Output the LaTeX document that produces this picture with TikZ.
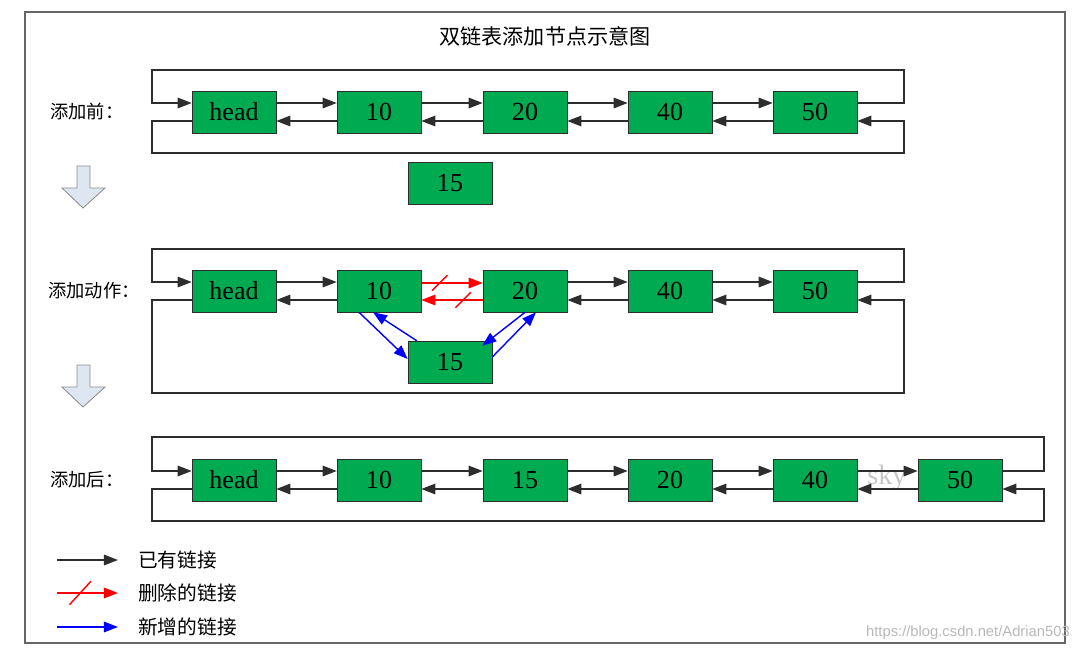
\documentclass[tikz,border=0pt]{standalone}
\usepackage{fontspec}
\setmainfont{Liberation Serif}
\newfontfamily\cjk{Noto Sans CJK SC}
\newfontfamily\urlsans{Liberation Sans}
\usetikzlibrary{arrows.meta,calc,shapes.misc}

\definecolor{nodegreen}{RGB}{0,170,80}
\definecolor{linkgray}{RGB}{45,45,45}
\definecolor{downfill}{RGB}{221,230,241}

\tikzset{
  box/.style={draw=linkgray,fill=nodegreen,minimum width=2.1cm,minimum height=1.05cm,
    inner sep=0pt,font=\fontsize{18.5}{20}\selectfont},
  link/.style={draw=linkgray,line width=1pt,-{Triangle[length=10pt,width=7.5pt]}},
  cutlink/.style={draw=red,line width=1pt,-{Triangle[length=10pt,width=7.5pt]}},
  newlink/.style={draw=blue,line width=1pt,-{Triangle[length=10pt,width=7.5pt]}},
  slash/.style={strike out,draw=red,line width=1pt,minimum width=0.35cm,
    minimum height=0.35cm,inner sep=0pt},
  rowtext/.style={font=\cjk\fontsize{13}{15}\selectfont,anchor=west,inner sep=0pt},
  keytext/.style={font=\cjk\fontsize{14}{16}\selectfont,anchor=west,inner sep=0pt},
  downarrow/.style={draw=black!45,fill=downfill,line width=0.6pt}
}

\begin{document}
\begin{tikzpicture}[x=0.025cm,y=-0.025cm]
  \useasboundingbox (0,0) rectangle (1080,653);
  \draw[black!60,line width=0.8pt] (25,12) rectangle (1065,643);
  \node (title) at (545,36) {\cjk\fontsize{15}{17}\selectfont 双链表添加节点示意图};

  % before
  \node[rowtext] (lab1) at (50,112) {添加前：};
  \node[box] (a0) at (234,112) {head};
  \node[box] (a1) at (379,112) {10};
  \node[box] (a2) at (525,112) {20};
  \node[box] (a3) at (670,112) {40};
  \node[box] (a4) at (815,112) {50};
  \node[box] (a15) at (450,183) {15};

  % adding
  \node[rowtext] (lab2) at (48,291) {添加动作：};
  \node[box] (b0) at (234,291) {head};
  \node[box] (b1) at (379,291) {10};
  \node[box] (b2) at (525,291) {20};
  \node[box] (b3) at (670,291) {40};
  \node[box] (b4) at (815,291) {50};
  \node[box] (b15) at (450,362) {15};

  % after
  \node[rowtext] (lab3) at (50,480) {添加后：};
  \node[box] (c0) at (234,480) {head};
  \node[box] (c1) at (379,480) {10};
  \node[box] (c2) at (525,480) {15};
  \node[box] (c3) at (670,480) {20};
  \node[box] (c4) at (815,480) {40};
  \node[box] (c5) at (960,480) {50};
  \node[text=black!22,font=\fontsize{20}{22}\selectfont] (sky) at (887,478) {sky};

  % next / prev links
  \foreach \p/\q in {a0/a1,a1/a2,a2/a3,a3/a4,b0/b1,b2/b3,b3/b4,c0/c1,c1/c2,c2/c3,c3/c4,c4/c5}{
    \draw[link] ($(\p.east)+(0,-9)$) -- ($(\q.west)+(0,-9)$);
    \draw[link] ($(\q.west)+(0,9)$) -- ($(\p.east)+(0,9)$);
  }

  % ring links
  \draw[link] ($(a4.east)+(0,-9)$) -| (904,70) -- (152,70) |- ($(a0.west)+(0,-9)$);
  \draw[link] ($(a0.west)+(0,9)$) -| (152,153) -- (904,153) |- ($(a4.east)+(0,9)$);
  \draw[link] ($(b4.east)+(0,-9)$) -| (904,249) -- (152,249) |- ($(b0.west)+(0,-9)$);
  \draw[link] ($(b0.west)+(0,9)$) -| (152,393) -- (904,393) |- ($(b4.east)+(0,9)$);
  \draw[link] ($(c5.east)+(0,-9)$) -| (1044,437) -- (152,437) |- ($(c0.west)+(0,-9)$);
  \draw[link] ($(c0.west)+(0,9)$) -| (152,521) -- (1044,521) |- ($(c5.east)+(0,9)$);

  % removed links
  \draw[cutlink] ($(b1.east)+(0,-8)$) -- node[slash,pos=0.3]{} ($(b2.west)+(0,-8)$);
  \draw[cutlink] ($(b2.west)+(0,9)$) -- node[slash,pos=0.32]{} ($(b1.east)+(0,9)$);

  % new links
  \draw[newlink] ($(b1.south)+(-20,0)$) -- ($(b15.west)+(0,-3)$);
  \draw[newlink] ($(b15.north west)+(9,0)$) -- ($(b1.south)+(-6,0)$);
  \draw[newlink] (b2.south) -- ($(b15.north east)+(-10,5)$);
  \draw[newlink] ($(b15.east)+(0,-5)$) -- ($(b2.south)+(11,0)$);

  % step arrows
  \foreach \dy in {0,199}
    \draw[downarrow,shift={(0,\dy)}] (77,166) -- (90,166) -- (90,188) -- (105,188)
      -- (83,208) -- (62,188) -- (77,188) -- cycle;

  % legend
  \coordinate (k1a) at (57,560); \coordinate (k1b) at (118,560);
  \coordinate (k2a) at (57,593); \coordinate (k2b) at (118,593);
  \coordinate (k3a) at (57,627); \coordinate (k3b) at (118,627);
  \draw[link] (k1a) -- (k1b);
  \draw[cutlink] (k2a) -- node[slash,pos=0.38,minimum width=0.5cm,minimum height=0.55cm]{} (k2b);
  \draw[newlink] (k3a) -- (k3b);
  \node[keytext] (key1) at (138,560) {已有链接};
  \node[keytext] (key2) at (138,593) {删除的链接};
  \node[keytext] (key3) at (138,627) {新增的链接};

  \node[text=black!28,font=\urlsans\fontsize{10.5}{12}\selectfont,anchor=east,inner sep=0pt]
    (url) at (1070,633) {https://blog.csdn.net/Adrian503};
\end{tikzpicture}
\end{document}
